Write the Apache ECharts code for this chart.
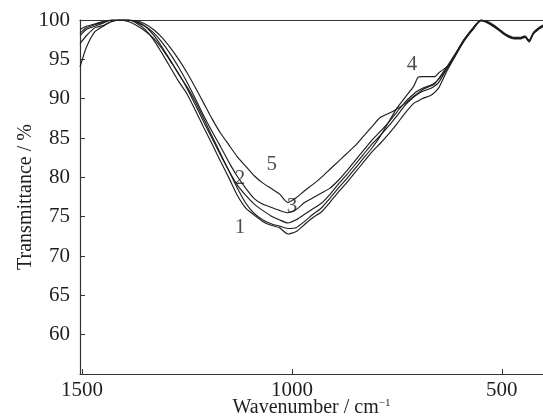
<!DOCTYPE html>
<html>
<head>
<meta charset="utf-8">
<script src="https://cdn.jsdelivr.net/npm/echarts@6/dist/echarts.min.js"></script>
<style>html,body{margin:0;padding:0;background:#fff}#c{width:543px;height:416px}</style>
</head>
<body>
<div id="c"></div>
<script>
const wavenumbers = [1505,1490,1470,1450,1430,1410,1390,1370,1350,1330,1310,1290,1270,1250,1230,1210,1190,1170,1150,1130,1110,1090,1070,1050,1030,1010,
  990,970,950,930,910,890,870,850,830,810,790,770,750,730,710,
  700,690,670,660,650,630,610,590,570,550,530,510,490,470,
  455,445,435,425,410,400];

const curve1 = [97.0,98.0,99.0,99.3,99.8,100,100,99.6,98.8,97.5,95.8,94.0,92.2,90.6,88.5,86.3,84.2,82.0,79.9,77.7,76.1,75.2,74.4,73.9,73.6,72.8,
  73.1,74.0,74.9,75.6,76.8,78.1,79.3,80.6,81.9,83.2,84.3,85.5,86.8,88.2,89.4,
  89.7,90.0,90.4,90.8,91.4,93.6,95.5,97.3,98.7,99.9,99.6,98.9,98.1,97.7,
  97.7,97.9,97.3,98.3,99.0,99.3];
const curve2 = [98.0,98.8,99.2,99.6,100,100,99.8,99.3,98.6,97.7,96.4,94.8,93.2,91.3,89.2,87.0,84.9,82.8,80.8,79.0,77.7,76.6,75.8,75.1,74.6,74.2,
  74.6,75.3,76.0,76.7,77.8,79.1,80.3,81.6,82.9,84.2,85.3,86.5,87.8,89.2,90.2,
  90.6,90.9,91.3,91.6,92.1,93.9,95.6,97.4,98.8,99.9,99.5,98.8,98.0,97.6,
  97.6,97.8,97.2,98.2,98.9,99.2];
const curve3 = [98.8,99.2,99.5,99.8,100,100,100,99.7,99.2,98.4,97.2,95.7,94.0,92.1,90.0,87.8,85.8,83.9,81.9,80.1,78.6,77.3,76.6,76.2,75.8,75.5,
  75.9,76.8,77.4,78.0,78.6,79.6,80.8,82.1,83.4,84.7,85.8,87.0,88.3,89.6,90.6,
  91.0,91.3,91.7,92.0,92.5,94.0,95.7,97.5,98.9,100,99.6,98.9,98.1,97.7,
  97.7,97.9,97.3,98.3,99.0,99.3];
const curve4 = [94.0,96.5,98.5,99.2,99.8,100,100,99.8,99.2,98.1,96.6,94.9,93.1,91.5,89.6,87.4,85.2,83.0,80.8,78.6,76.7,75.4,74.6,74.1,73.8,73.5,
  73.6,74.4,75.3,76.1,77.3,78.6,79.8,81.1,82.4,83.7,85.2,87.0,88.8,90.2,91.6,
  92.7,92.8,92.8,92.8,93.3,94.1,95.7,97.5,98.8,100,99.7,99.0,98.2,97.8,
  97.8,98.0,97.4,98.4,99.1,99.4];
const curve5 = [98.3,99.0,99.4,99.7,100,100,100,99.9,99.5,98.8,97.8,96.5,95.0,93.3,91.4,89.4,87.4,85.6,84.1,82.6,81.4,80.2,79.3,78.6,77.9,76.8,
  77.4,78.3,79.1,80.0,81.0,82.0,83.0,84.0,85.2,86.4,87.6,88.1,88.7,89.4,90.3,
  90.7,91.1,91.6,91.9,92.6,94.1,95.8,97.5,98.9,100,99.6,98.9,98.1,97.7,
  97.7,97.9,97.3,98.3,99.0,99.3];

const xTicks = [500, 1000, 1500];
const yTicks = [60, 65, 70, 75, 80, 85, 90, 95, 100];

const labelNames = ['1', '2', '3', '4', '5'];
const labelW = [1124, 1124, 1000, 714, 1048];
const labelT = [73.6, 79.9, 76.3, 94.3, 81.6];

const curves = [curve1, curve2, curve3, curve4, curve5];
const FONT = 'Liberation Serif';
const ink = '#1e1e1e';

const lineSeries = curves.map((c, k) => ({
  type: 'line',
  name: 'curve' + (k + 1),
  data: wavenumbers.map((w, i) => [w, c[i]]),
  showSymbol: false,
  smooth: 0.2,
  lineStyle: { color: ink, width: 1.15 },
  silent: true
}));

const labelSeries = {
  type: 'scatter',
  symbolSize: 0,
  data: labelNames.map((n, i) => ({ name: n, value: [labelW[i], labelT[i]] })),
  label: { show: true, position: 'inside', formatter: '{b}', color: ink, fontFamily: FONT, fontSize: 21 },
  silent: true
};

const chart = echarts.init(document.getElementById('c'), null, { renderer: 'canvas' });
chart.setOption({
  animation: false,
  backgroundColor: '#fff',
  grid: { left: 80, right: 0, top: 20, bottom: 42, containLabel: false, outerBoundsMode: 'none' },
  xAxis: [{
    type: 'value', inverse: true, min: 402, max: 1505,
    position: 'bottom',
    axisLine: { show: true, lineStyle: { color: '#333', width: 1.2 } },
    axisTick: { show: true, inside: true, length: 5, customValues: xTicks, lineStyle: { color: '#333' } },
    axisLabel: { customValues: xTicks, formatter: v => String(v), color: ink, fontFamily: FONT, fontSize: 21, margin: 6 },
    splitLine: { show: false },
    name: '{a|Wavenumber / cm}{b|\u22121}',
    nameLocation: 'middle', nameGap: 24, nameMoveOverlap: false,
    nameTextStyle: {
      rich: {
        a: { fontFamily: FONT, fontSize: 20, color: ink },
        b: { fontFamily: FONT, fontSize: 11, color: ink, verticalAlign: 'top', padding: [0, 0, 8, 0] }
      }
    }
  }, {
    type: 'value', inverse: true, min: 402, max: 1505,
    position: 'top',
    axisLine: { show: true, lineStyle: { color: '#333', width: 1.2 } },
    axisTick: { show: false }, axisLabel: { show: false }, splitLine: { show: false }
  }],
  yAxis: {
    type: 'value', min: 55, max: 100, interval: 5,
    axisLine: { show: true, lineStyle: { color: '#333', width: 1.2 } },
    axisTick: { show: true, inside: true, length: 5, customValues: yTicks, lineStyle: { color: '#333' } },
    axisLabel: { customValues: yTicks, color: ink, fontFamily: FONT, fontSize: 21, margin: 10 },
    splitLine: { show: false },
    name: 'Transmittance / %',
    nameLocation: 'middle', nameGap: 44, nameMoveOverlap: false,
    nameTextStyle: { fontFamily: FONT, fontSize: 20, color: ink }
  },
  series: [...lineSeries, labelSeries]
});
</script>
</body>
</html>
